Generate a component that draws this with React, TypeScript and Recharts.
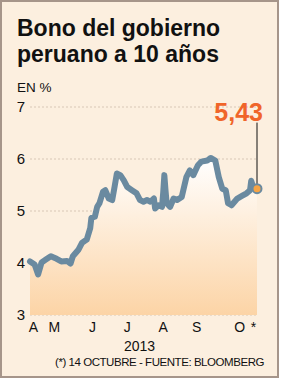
import React from "react";
import {
    ComposedChart,
    Area,
    XAxis,
    YAxis,
    CartesianGrid,
    ReferenceDot,
    ReferenceLine,
} from "recharts";

// days counted from 1 April 2013, last point = 14 October
const DAYS = [
    0, 4, 7, 10, 14, 18, 23, 27, 32, 35, 37, 42, 45, 49, 52, 53, 56, 58, 60, 63,
    65, 68, 71, 73, 75, 78, 81, 84, 88, 92, 95, 98, 101, 104, 107, 108, 111, 114,
    115, 116, 117, 118, 121, 124, 127, 131, 135, 138, 141, 145, 148, 153, 156,
    160, 163, 166, 169, 171, 174, 179, 183, 187, 190, 191, 193, 196,
];
const YIELDS = [
    4.03, 3.97, 3.78, 4.01, 4.07, 4.13, 4.08, 4.03, 4.04, 3.99, 4.13, 4.26, 4.39,
    4.45, 4.67, 4.87, 4.89, 5.08, 5.15, 5.37, 5.4, 5.24, 5.21, 5.46, 5.72, 5.69,
    5.59, 5.46, 5.4, 5.34, 5.21, 5.18, 5.21, 5.18, 5.24, 5.05, 5.11, 5.08, 5.35,
    5.69, 5.4, 5.15, 5.08, 5.24, 5.21, 5.27, 5.65, 5.78, 5.69, 5.88, 5.95, 5.97,
    6.02, 5.97, 5.65, 5.43, 5.4, 5.15, 5.11, 5.24, 5.29, 5.34, 5.4, 5.58, 5.44,
    5.43,
];
const MONTH_TICKS = [3, 21, 54, 84, 115, 144, 181, 193];
const MONTH_LABELS = ["A", "M", "J", "J", "A", "S", "O", "*"];
const Y_TICKS = [3, 4, 5, 6, 7];
const LAST_LABEL = "5,43";

const FONT = "'Liberation Sans', Arial, sans-serif";
const LINE_COLOR = "#6a8aa0";
const ORANGE = "#f0652a";

const data = DAYS.map((d, i) => ({ day: d, value: YIELDS[i] }));
const last = data[data.length - 1];

// eslint-disable-next-line @typescript-eslint/no-explicit-any
const MonthTick = (props: any) => {
    const { x, y, payload, index } = props;
    return (
        <text x={x} y={y} dy={9} textAnchor="middle" fontSize={14} fill="#111" fontFamily={FONT}>
            {MONTH_LABELS[index] ?? payload.value}
        </text>
    );
};

// eslint-disable-next-line @typescript-eslint/no-explicit-any
const ValueTick = (props: any) => {
    const { y, payload } = props;
    return (
        <text x={25} y={y} dy={5} textAnchor="end" fontSize={15} fill="#111" fontFamily={FONT}>
            {payload.value}
        </text>
    );
};

// eslint-disable-next-line @typescript-eslint/no-explicit-any
const LastLabel = (props: any) => {
    const { viewBox } = props;
    return (
        <text
            x={viewBox.x + 6}
            y={viewBox.y - 2}
            textAnchor="end"
            fontSize={25}
            fontWeight="bold"
            fill={ORANGE}
            fontFamily={FONT}
        >
            {LAST_LABEL}
        </text>
    );
};

export default function App() {
    return (
        <div style={{ position: "relative", width: 281, height: 380, background: "#fff", fontFamily: FONT }}>
            <style>{`body{margin:0}`}</style>
            <div
                style={{
                    position: "absolute",
                    left: 0,
                    top: 0,
                    width: 279,
                    height: 378,
                    boxSizing: "border-box",
                    border: "2px solid #a6958a",
                    background: "#fcefdf",
                }}
            />
            <div
                style={{
                    position: "absolute",
                    left: 17,
                    top: 15,
                    fontSize: 23,
                    lineHeight: "26px",
                    fontWeight: "bold",
                    color: "#111",
                }}
            >
                Bono del gobierno
                <br />
                peruano a 10 años
            </div>
            <div style={{ position: "absolute", left: 17, top: 80, fontSize: 13.5, color: "#111" }}>EN %</div>
            <div style={{ position: "absolute", left: 0, top: 0 }}>
                <ComposedChart
                    width={281}
                    height={380}
                    data={data}
                    margin={{ top: 107, right: 24, left: 0, bottom: 35 }}
                >
                    <defs>
                        <linearGradient id="bondFill" x1="0" y1="0" x2="0" y2="1">
                            <stop offset="0%" stopColor="#ffffff" stopOpacity={1} />
                            <stop offset="100%" stopColor="#fcd4a6" stopOpacity={1} />
                        </linearGradient>
                    </defs>
                    <CartesianGrid horizontal vertical={false} stroke="#d8c7b6" strokeDasharray="2 2" />
                    <XAxis
                        dataKey="day"
                        type="number"
                        domain={[0, 196]}
                        ticks={MONTH_TICKS}
                        interval={0}
                        tick={<MonthTick />}
                        tickLine={false}
                        axisLine={false}
                        height={30}
                    />
                    <YAxis
                        type="number"
                        domain={[3, 7]}
                        ticks={Y_TICKS}
                        interval={0}
                        tick={<ValueTick />}
                        tickLine={false}
                        axisLine={false}
                        width={30}
                    />
                    <Area
                        type="linear"
                        dataKey="value"
                        baseValue={3}
                        stroke={LINE_COLOR}
                        strokeWidth={6}
                        strokeLinejoin="round"
                        strokeLinecap="round"
                        fill="url(#bondFill)"
                        fillOpacity={1}
                        dot={false}
                        activeDot={false}
                        isAnimationActive={false}
                    />
                    <ReferenceLine
                        segment={[
                            { x: last.day, y: last.value },
                            { x: last.day, y: 6.7 },
                        ]}
                        stroke="#111"
                        strokeWidth={1}
                        label={<LastLabel />}
                    />
                    <ReferenceDot
                        x={last.day}
                        y={last.value}
                        r={4.5}
                        fill="#f6a445"
                        stroke={LINE_COLOR}
                        strokeWidth={2}
                    />
                </ComposedChart>
            </div>
            <div style={{ position: "absolute", left: 124, top: 338, fontSize: 14, color: "#111" }}>2013</div>
            <div
                style={{
                    position: "absolute",
                    left: 55,
                    top: 356,
                    fontSize: 11.5,
                    letterSpacing: -0.45,
                    color: "#111",
                    whiteSpace: "nowrap",
                }}
            >
                (*) 14 OCTUBRE - FUENTE: BLOOMBERG
            </div>
        </div>
    );
}
